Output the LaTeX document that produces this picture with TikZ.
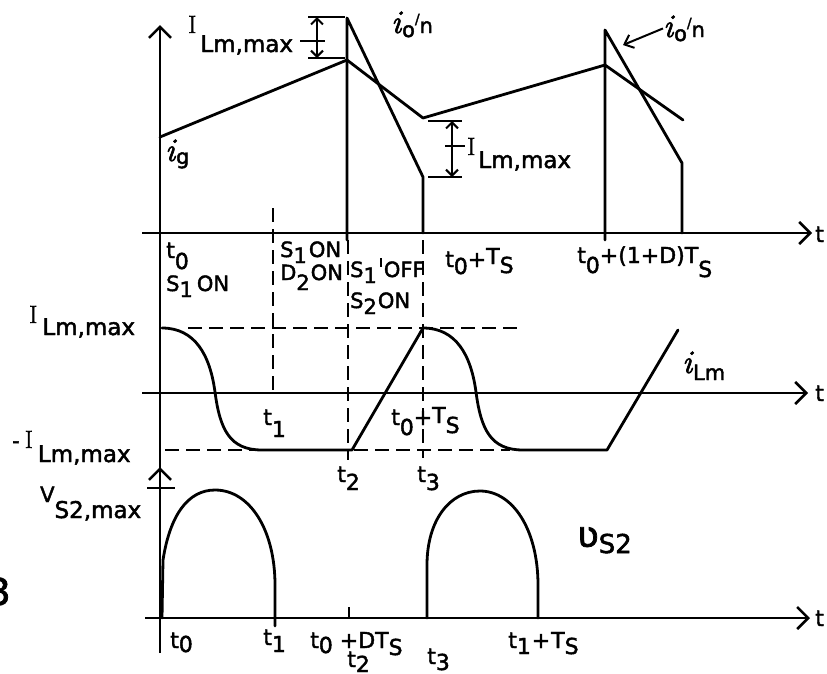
\documentclass[tikz,border=0pt]{standalone}
\usepackage{fontspec}
\setsansfont{DejaVu Sans}[FakeBold=2]
\newfontfamily\hookfont{DejaVu Sans}[FakeBold=2]
\newfontfamily\serI{Latin Modern Roman}[FakeBold=1.5]
\newfontfamily\itI{Latin Modern Roman}[FakeBold=2]
\usetikzlibrary{arrows.meta}
\newcommand\dn[2]{\raisebox{-#1pt}{#2}}
\newcommand\up[2]{\raisebox{#1pt}{#2}}
\newcommand\bigI{{\serI\fontsize{25}{25}\selectfont I}}
\newcommand\mi{{\itI\itshape\fontsize{33}{33}\selectfont i}}
\newcommand\lmm{{\fontsize{23}{23}\selectfont Lm,max}}
\begin{document}
\begin{tikzpicture}[x=1pt,y=-1pt,
  ln/.style={line width=2.8pt, line join=round, line cap=round},
  ax/.style={line width=2.8pt},
  dsh/.style={line width=2.6pt, dash pattern=on 14pt off 7pt},
  thn/.style={line width=2pt},
  arr/.style={-{Straight Barb[length=11pt,width=22pt,line width=2.6pt]}},
  dim/.style={thn,{Straight Barb[length=6pt,width=12pt,line width=2pt]}-{Straight Barb[length=6pt,width=12pt,line width=2pt]}},
  lbl/.style={font=\sffamily\fontsize{21}{21}\selectfont, inner sep=0pt, anchor=base west},
  lbb/.style={lbl, font=\sffamily\fontsize{22}{22}\selectfont},
]
\useasboundingbox (0,0) rectangle (827,673);

% axes
\draw[ax,arr] (160,653) -- (160,25);
\draw[ax,arr] (160,505) -- (160,467);
\draw[ax] (147,488) -- (175,488);
\draw[ax,arr] (142,233) -- (812,233);
\draw[ax,arr] (142,393) -- (808,393);
\draw[ax,arr] (145,618) -- (810,618);
\node[lbb] (tA) at (815,242) {t};
\node[lbb] (tB) at (815,401) {t};
\node[lbb] (tC) at (815,626) {t};

% top waveforms
\draw[ln] (160,137) -- (347,60) -- (423,118) -- (605,65) -- (683,120);
\draw[ln] (347,240) -- (347,18) -- (423,177) -- (423,233);
\draw[ln] (605,240) -- (605,30) -- (682,163) -- (682,233);

% dimension marks
\draw[thn] (308,17) -- (345,17);
\draw[thn] (308,58) -- (345,58);
\draw[dim] (317,17) -- (317,58);
\draw[thn] (300,41) -- (325,41);
\draw[thn] (428,121) -- (462,121);
\draw[thn] (428,177) -- (462,177);
\draw[dim] (452,121) -- (452,177);
\draw[thn] (445,146) -- (465,146);

% dashed guides
\draw[dsh] (273,208) -- (273,395);
\draw[dsh] (348,240) -- (348,460);
\draw[dsh] (423,240) -- (423,458);
\draw[dsh] (188,328) -- (523,328);
\draw[dsh] (165,450) -- (510,450);
\draw[line width=2.2pt] (381,258) -- (381,267);

% i_Lm
\draw[ln] (162,328) .. controls (195,328) and (210,355) .. (215,392)
  .. controls (220,430) and (230,450) .. (262,450) -- (352,450) -- (423,328)
  .. controls (456,328) and (471,355) .. (476,392)
  .. controls (481,430) and (491,450) .. (523,450) -- (607,450) -- (678,330);

% v_S2
\draw[ln] (162,618) -- (163,560) .. controls (170,515) and (188,490) .. (215,490)
  .. controls (250,490) and (275,530) .. (275,585) -- (275,626);
\draw[ln] (427,618) -- (427,565) .. controls (427,520) and (450,491) .. (480,491)
  .. controls (513,491) and (538,530) .. (538,585) -- (538,618);
\draw[ax] (349,607) -- (349,618);

% top labels
\node[lbl] (ilmA) at (188,33) {\bigI\hspace{4pt}\dn{19}{\lmm}};
\node[lbl] (ionA) at (391,33) {\mi\hspace{1pt}\dn{4}{o}\up{9}{\fontsize{14}{14}\selectfont /}n};
\node[lbl] (ionB) at (663,37) {\mi\hspace{1pt}\dn{4}{o}\up{9}{\fontsize{14}{14}\selectfont /}n};
\draw[thn,-{Straight Barb[length=8pt,width=14pt,line width=2pt]}] (ionB.west) -- (623,45);
\node[lbl] (ig) at (165,161) {\mi\hspace{1pt}\dn{3}{g}};
\node[lbl] (ilmB) at (467,155) {\bigI\hspace{3pt}\dn{13}{\lmm}};

% labels under top axis
\node[lbb] (t0a) at (166,258) {t\dn{11}{0}};
\node[lbl] (s1a) at (166,291) {S\dn{6}{1}\hspace{4pt}ON};
\node[lbl] (s1b) at (280,257) {S\dn{6}{1}\hspace{2pt}ON};
\node[lbl] (d2) at (280,280) {D\dn{10}{2}\hspace{1pt}ON};
\node[lbl] (s1off) at (350,277) {S\dn{6}{1}\hspace{7pt}OFF};
\node[lbl] (s2on) at (350,308) {S\dn{6}{2}\hspace{1pt}ON};
\node[lbb] (t0ts) at (445,267) {t\dn{7}{0}+\up{3}{T}\dn{6}{S}};
\node[lbb] (t0d) at (577,263) {t\dn{10}{0}+(1+D)T\dn{14}{S}};

% middle labels
\node[lbl] (ilmL) at (29,323) {\bigI\hspace{5pt}\dn{12}{\lmm}};
\node[lbl] (ilmN) at (12,448) {-\hspace{5pt}\bigI\hspace{5pt}\dn{14}{\lmm}};
\node[lbb] (t1m) at (263,425) {t\dn{12}{1}};
\node[lbb] (t0tm) at (391,425) {t\dn{10}{0}+\up{2}{T}\dn{8}{S}};
\node[lbb] (t2m) at (337,482) {t\dn{8}{2}};
\node[lbb] (t3m) at (417,482) {t\dn{8}{3}};
\node[lbl] (ilmC) at (682,373) {\mi\hspace{1pt}\dn{7}{Lm}};

% bottom labels
\node[lbl] (vmax) at (40,502) {V\dn{16}{{\fontsize{23}{23}\selectfont S2,max}}};
\node[lbl] (vs2) at (577,547) {{\hookfont\fontsize{36}{36}\selectfont ʋ}\dn{6}{\fontsize{26}{26}\selectfont S2}};
\node[lbb] (t0b) at (170,648) {t\dn{4}{0}};
\node[lbb] (t1b) at (263,645) {t\dn{7}{1}};
\node[lbb] (t0dt) at (310,648) {t\dn{5}{0}\hspace{7pt}+DT\dn{7}{S}};
\node[lbb] (t2b) at (347,667) {t\dn{5}{2}};
\node[lbb] (t3b) at (427,664) {t\dn{6}{3}};
\node[lbb] (t1ts) at (508,648) {t\dn{6}{1}\hspace{1pt}+\hspace{1pt}T\dn{6}{S}};
\node[lbl, font=\sffamily\fontsize{37}{37}\selectfont] (fig) at (-13,605) {3};
\end{tikzpicture}
\end{document}
